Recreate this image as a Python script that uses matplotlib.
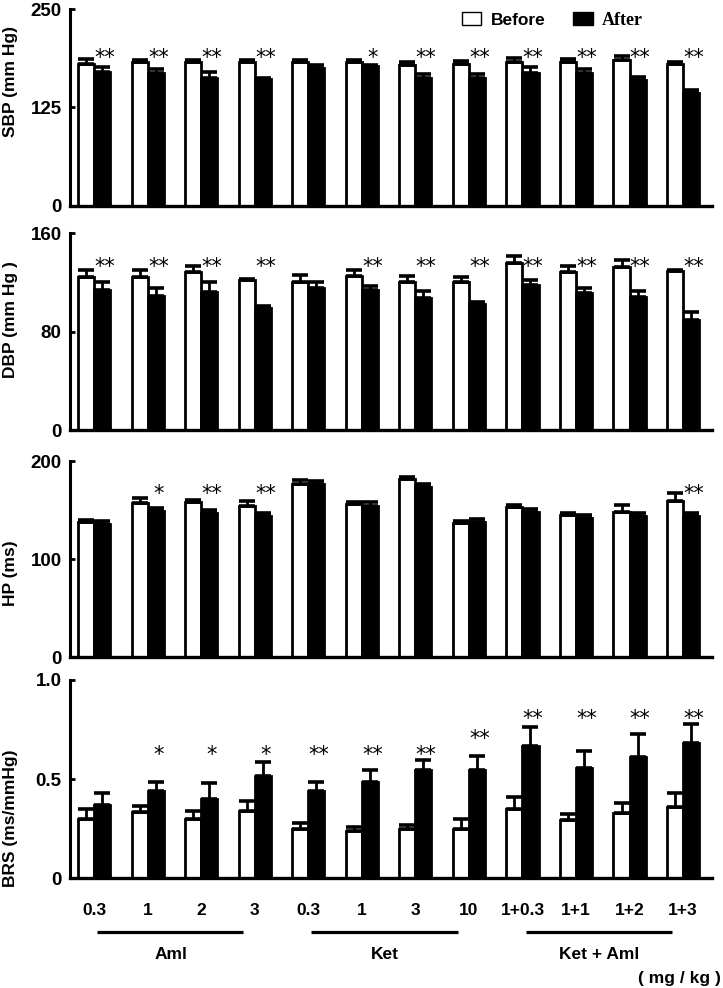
import matplotlib
matplotlib.use('Agg')
import matplotlib.pyplot as plt
import numpy as np
from matplotlib.patches import Patch
from matplotlib.transforms import blended_transform_factory

plt.rcParams['font.family'] = ['Liberation Sans', 'DejaVu Sans']

# dose labels and drug groups
doses = ['0.3', '1', '2', '3', '0.3', '1', '3', '10', '1+0.3', '1+1', '1+2', '1+3']
drug_names = ['Aml', 'Ket', 'Ket + Aml']
drug_start = [0, 4, 8]

# SBP (mm Hg)
sbp_before = [180, 183, 183, 183, 183, 183, 179, 180, 183, 183, 185, 180]
sbp_before_err = [6, 2, 2, 2, 2, 2, 4, 4, 5, 4, 5, 3]
sbp_after = [170, 169, 163, 161, 175, 178, 162, 162, 169, 169, 160, 143]
sbp_after_err = [6, 5, 7, 1, 4, 1, 5.5, 5.5, 7, 5, 4, 4]
sbp_sig = ['**', '**', '**', '**', '', '*', '**', '**', '**', '**', '**', '**']

# DBP (mm Hg)
dbp_before = [124, 124, 128, 122, 120, 125, 120, 120, 136, 128, 132, 129]
dbp_before_err = [6, 6, 5, 1, 6, 5, 5, 4, 5, 5, 6, 1]
dbp_after = [114, 109, 112, 99, 115, 114, 107, 102, 118, 111, 108, 89]
dbp_after_err = [6, 6, 8, 2, 5, 3, 6, 2, 4, 4, 5, 7]
dbp_sig = ['**', '**', '**', '**', '', '**', '**', '**', '**', '**', '**', '**']

# HP (ms)
hp_before = [138, 157, 158, 154, 177, 156, 182, 137, 153, 145, 148, 159]
hp_before_err = [2, 5, 2, 5, 4, 2, 2, 2, 2, 2, 7, 8]
hp_after = [136, 149, 147, 144, 177, 154, 173, 138, 148, 142, 144, 144]
hp_after_err = [3, 3, 3, 3, 3, 4, 4, 3, 3, 3, 3, 3]
hp_sig = ['', '*', '**', '**', '', '', '', '', '', '', '', '**']

# BRS (ms/mmHg)
brs_before = [0.30, 0.335, 0.30, 0.34, 0.245, 0.235, 0.25, 0.25, 0.35, 0.295, 0.33, 0.36]
brs_before_err = [0.05, 0.03, 0.04, 0.05, 0.035, 0.025, 0.02, 0.05, 0.06, 0.03, 0.05, 0.07]
brs_after = [0.37, 0.44, 0.40, 0.515, 0.44, 0.485, 0.545, 0.545, 0.665, 0.555, 0.61, 0.68]
brs_after_err = [0.06, 0.045, 0.08, 0.07, 0.045, 0.06, 0.05, 0.07, 0.10, 0.085, 0.115, 0.10]
brs_sig = ['', '*', '*', '*', '**', '**', '**', '**', '**', '**', '**', '**']
brs_sig_y = [0, 0.646, 0.646, 0.646, 0.646, 0.646, 0.65, 0.727, 0.83, 0.83, 0.83, 0.83]

panels = [
    dict(before=sbp_before, berr=sbp_before_err, after=sbp_after, aerr=sbp_after_err,
         sig=sbp_sig, sig_y=[195] * 12, ylim=250, ticks=[0, 125, 250], tlabels=['0', '125', '250'],
         ylabel='SBP (mm Hg)', label_y=0.63, px=(9, 206)),
    dict(before=dbp_before, berr=dbp_before_err, after=dbp_after, aerr=dbp_after_err,
         sig=dbp_sig, sig_y=[136.5] * 12, ylim=160, ticks=[0, 80, 160], tlabels=['0', '80', '160'],
         ylabel='DBP (mm Hg )', label_y=0.56, px=(233, 430)),
    dict(before=hp_before, berr=hp_before_err, after=hp_after, aerr=hp_after_err,
         sig=hp_sig, sig_y=[172] * 12, ylim=200, ticks=[0, 100, 200], tlabels=['0', '100', '200'],
         ylabel='HP (ms)', label_y=0.43, px=(461, 657)),
    dict(before=brs_before, berr=brs_before_err, after=brs_after, aerr=brs_after_err,
         sig=brs_sig, sig_y=brs_sig_y, ylim=1.0, ticks=[0, 0.5, 1.0], tlabels=['0', '0.5', '1.0'],
         ylabel='BRS (ms/mmHg)', label_y=0.30, px=(680, 878)),
]

W, H = 723, 988
left_px, right_px = 70, 712
fig = plt.figure(figsize=(W / 100, H / 100), dpi=100)

x = np.arange(len(doses))
bw = 0.3

for p in panels:
    top, bot = p['px']
    ax = fig.add_axes([left_px / W, 1 - bot / H, (right_px - left_px) / W, (bot - top) / H])
    n = len(p['before'])
    ax.bar(x - bw / 2, p['before'], bw, color='white', edgecolor='black', linewidth=2.0, zorder=2)
    ax.bar(x + bw / 2, p['after'], bw, color='black', edgecolor='black', linewidth=2.0, zorder=2)
    ax.errorbar(x - bw / 2, p['before'], yerr=[[0] * n, p['berr']], fmt='none', ecolor='black',
                elinewidth=2, capsize=5.5, capthick=2.6, zorder=3)
    ax.errorbar(x + bw / 2, p['after'], yerr=[[0] * n, p['aerr']], fmt='none', ecolor='black',
                elinewidth=2, capsize=5.5, capthick=2.6, zorder=3)
    for i in range(n):
        if p['sig'][i]:
            ax.annotate(p['sig'][i], (x[i] + 0.2, p['sig_y'][i]), xytext=(0, -8.2),
                        textcoords='offset points', ha='center', va='baseline',
                        fontsize=15, family='DejaVu Sans')
    ax.set_xlim(-0.45, 11.54)
    ax.set_ylim(0, p['ylim'])
    ax.set_yticks(p['ticks'])
    ax.set_yticklabels(p['tlabels'], fontsize=13.5, fontweight='bold')
    ax.set_xticks([])
    ax.tick_params(axis='y', direction='in', length=3.5, width=2, pad=6)
    for s in ['top', 'right']:
        ax.spines[s].set_visible(False)
    ax.spines['left'].set_linewidth(2.2)
    ax.spines['bottom'].set_linewidth(2.4)
    ax.text(-0.092, p['label_y'], p['ylabel'], transform=ax.transAxes, rotation=90,
            ha='center', va='center', fontsize=12.5, fontweight='bold')

ax_top = fig.axes[0]
handles = [Patch(facecolor='white', edgecolor='black', linewidth=1.0),
           Patch(facecolor='black', edgecolor='black')]
leg = ax_top.legend(handles, ['Before', 'After'], loc='center left', bbox_to_anchor=(0.611, 0.944),
                    ncol=2, frameon=False, borderpad=0, borderaxespad=0, handlelength=1.1,
                    handleheight=0.75, handletextpad=0.55, columnspacing=1.6,
                    prop={'size': 12.5, 'weight': 'bold'})
leg.get_texts()[1].set_fontfamily('Liberation Serif')
leg.get_texts()[1].set_fontsize(13)

# dose labels and drug group bars under the last panel
ax_b = fig.axes[-1]
tr = blended_transform_factory(ax_b.transData, ax_b.transAxes)
for i, d in enumerate(doses):
    ax_b.text(x[i], -0.162, d, transform=tr, ha='center', va='center', fontsize=12.5,
              fontweight='bold', clip_on=False)
for name, st in zip(drug_names, drug_start):
    ax_b.plot([st + 0.06, st + 2.79], [-0.273, -0.273], transform=tr, color='black',
              linewidth=2.3, clip_on=False, solid_capstyle='butt')
    ax_b.text(st + 1.43, -0.384, name, transform=tr, ha='center', va='center', fontsize=12.5,
              fontweight='bold', clip_on=False)
fig.text(721 / W, 1 - 978 / H, '( mg / kg )', ha='right', va='center', fontsize=12.5,
         fontweight='bold')

fig.savefig('out.png', dpi=100)
